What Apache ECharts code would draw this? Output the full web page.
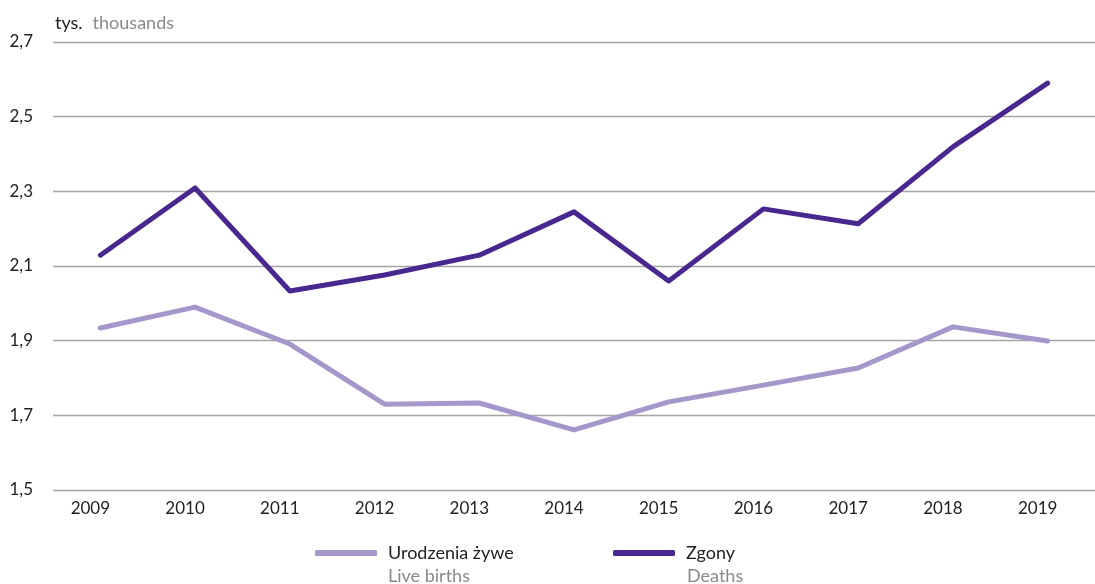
<!DOCTYPE html>
<html>
<head>
<meta charset="utf-8">
<script src="https://cdn.jsdelivr.net/npm/echarts@6/dist/echarts.min.js"></script>
<style>
  html, body { margin: 0; padding: 0; background: #fff; }
  #main { width: 1095px; height: 584px; }
</style>
</head>
<body>
<div id="main"></div>
<script>
// years on the x axis
const years = ['2009','2010','2011','2012','2013','2014','2015','2016','2017','2018','2019']
// thousands
const liveBirths = [1.934, 1.990, 1.891, 1.730, 1.733, 1.661, 1.736, 1.781, 1.827, 1.937, 1.899]
const deaths = [2.129, 2.309, 2.033, 2.076, 2.129, 2.245, 2.060, 2.253, 2.213, 2.419, 2.590]

const birthsColor = '#a697cb'
const deathsColor = '#48288f'
const font = 'Lato'

const chart = echarts.init(document.getElementById('main'))

// english subtitle under the legend names
function subText(x, text) {
  return {
    type: 'text', left: x, top: 567,
    style: { text: text, fontSize: 18, fill: '#8a8a8a', fontFamily: font }
  }
}

const option = {
  animation: false,
  textStyle: { fontFamily: font },
  grid: { left: 53, right: -11, top: 42, bottom: 94 },
  graphic: [
    {
      type: 'text', left: 55, top: 14,
      style: {
        text: '{a|tys.}   {b|thousands}',
        rich: {
          a: { fontSize: 18, fill: '#222', fontFamily: font },
          b: { fontSize: 18, fill: '#8a8a8a', fontFamily: font }
        }
      }
    },
    subText(388, 'Live births'),
    subText(687, 'Deaths')
  ],
  legend: [
    {
      data: ['Urodzenia żywe'],
      left: 310, top: 539,
      icon: 'roundRect', itemWidth: 62, itemHeight: 6,
      textStyle: { fontSize: 18, color: '#222', fontFamily: font, padding: [0, 0, 0, 6] }
    },
    {
      data: ['Zgony'],
      left: 608, top: 539,
      icon: 'roundRect', itemWidth: 62, itemHeight: 6,
      textStyle: { fontSize: 18, color: '#222', fontFamily: font, padding: [0, 0, 0, 6] }
    }
  ],
  xAxis: {
    type: 'category',
    data: years,
    boundaryGap: true,
    axisLine: { show: false },
    axisTick: { show: false },
    axisLabel: { fontSize: 17, color: '#222', margin: 10, padding: [0, 20, 0, 0] }
  },
  yAxis: {
    type: 'value',
    min: 1.5, max: 2.7, interval: 0.2,
    axisLine: { show: false },
    axisTick: { show: false },
    axisLabel: {
      fontSize: 17, color: '#222', margin: 20,
      formatter: v => v.toFixed(1).replace('.', ',')
    },
    splitLine: { lineStyle: { color: '#a5a5a5', width: 1.3 } }
  },
  series: [
    {
      name: 'Urodzenia żywe',
      type: 'line',
      data: liveBirths,
      showSymbol: false,
      color: birthsColor,
      lineStyle: { width: 5, color: birthsColor, cap: 'round', join: 'round' }
    },
    {
      name: 'Zgony',
      type: 'line',
      data: deaths,
      showSymbol: false,
      color: deathsColor,
      lineStyle: { width: 5, color: deathsColor, cap: 'round', join: 'round' }
    }
  ]
}

chart.setOption(option)
</script>
</body>
</html>
